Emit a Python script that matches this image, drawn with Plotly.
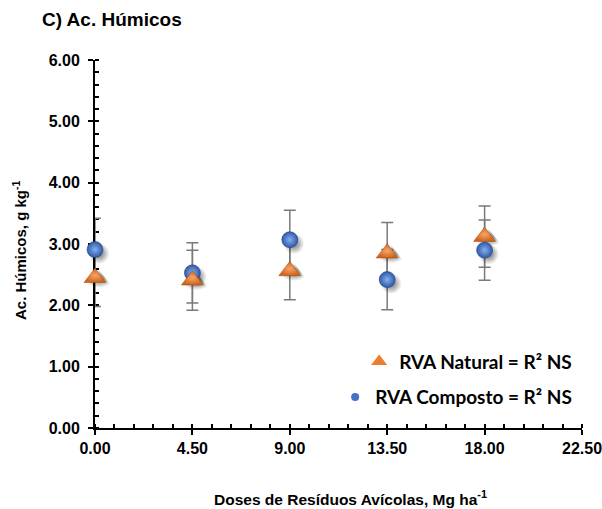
import plotly.graph_objects as go

# ---- data ----
doses = [0.0, 4.5, 9.0, 13.5, 18.0]
natural = [2.45, 2.41, 2.56, 2.85, 3.12]
natural_err = [0.47, 0.49, 0.47, 0.50, 0.50]
composto = [2.91, 2.53, 3.07, 2.42, 2.90]
composto_err = [0.51, 0.49, 0.48, 0.49, 0.49]

x_ticks = [0.0, 4.5, 9.0, 13.5, 18.0, 22.5]
y_ticks = [0, 1, 2, 3, 4, 5, 6]

title_text = "C) Ac. Húmicos"
x_title = "Doses de Resíduos Avícolas, Mg ha<sup>-1</sup>"
y_title = "Ac. Húmicos, g kg<sup>-1</sup>"
name_natural = "RVA Natural = R² NS"
name_composto = "RVA Composto = R² NS"

ARIAL = "Liberation Sans, Arial, sans-serif"
LEG = "Lato, Carlito, sans-serif"
ERR = "#7a7a7a"

X_RANGE = [0, 22.5]
Y_RANGE = [0, 6]
PLOT_W, PLOT_H = 487, 368
SHADOW_PX = 4  # drop-shadow offset in pixels
dx = SHADOW_PX * (X_RANGE[1] - X_RANGE[0]) / PLOT_W
dy = SHADOW_PX * (Y_RANGE[1] - Y_RANGE[0]) / PLOT_H

fig = go.Figure()

# error bars (main axes, beneath everything else)
for ys, es in ((composto, composto_err), (natural, natural_err)):
    fig.add_trace(go.Scatter(
        x=doses, y=ys, mode="markers",
        marker=dict(size=1, opacity=0),
        error_y=dict(type="data", array=es, visible=True, color=ERR,
                     thickness=1.5, width=6),
        showlegend=False, hoverinfo="skip", cliponaxis=False))

# soft drop shadows (on a slightly shifted overlay axis pair)
for ys, sym, sz in ((composto, "circle", 21), (natural, "triangle-up", 24)):
    fig.add_trace(go.Scatter(
        x=doses, y=ys, mode="markers", xaxis="x2", yaxis="y2",
        marker=dict(symbol=sym, size=sz, color="rgba(0,0,0,0)",
                    gradient=dict(type="radial", color="rgba(0,0,0,0.6)"),
                    line=dict(width=0)),
        showlegend=False, hoverinfo="skip", cliponaxis=False))

# composto: blue spheres
fig.add_trace(go.Scatter(
    x=doses, y=composto, mode="markers", name=name_composto,
    xaxis="x3", yaxis="y3",
    marker=dict(symbol="circle", size=16, color="#2f5aa8",
                gradient=dict(type="radial", color="#86aef0"),
                line=dict(width=0.6, color="#24477f")),
    showlegend=False, cliponaxis=False))

# natural: orange triangles
fig.add_trace(go.Scatter(
    x=doses, y=natural, mode="markers", name=name_natural,
    xaxis="x3", yaxis="y3",
    marker=dict(symbol="triangle-up", size=19, color="#d0641c",
                gradient=dict(type="radial", color="#f7a566"),
                line=dict(width=0.6, color="#a84f14")),
    showlegend=False, cliponaxis=False))

# legend entries
fig.add_trace(go.Scatter(
    x=[None], y=[None], mode="markers", name=name_natural,
    marker=dict(symbol="triangle-up", size=14, color="#ED7D31"),
    legend="legend"))
fig.add_trace(go.Scatter(
    x=[None], y=[None], mode="markers", name=name_composto,
    marker=dict(symbol="circle", size=8, color="#4472C4"),
    legend="legend2"))

tickfont = dict(family=ARIAL, size=16, color="black", weight="bold")
legfont = dict(family=LEG, size=19, color="black", weight="bold")
hidden = dict(visible=False, showgrid=False, zeroline=False, fixedrange=True)

fig.update_layout(
    width=602, height=509,
    margin=dict(l=95, r=20, t=60, b=81, autoexpand=False),
    paper_bgcolor="white", plot_bgcolor="white",
    xaxis=dict(range=X_RANGE, tickvals=x_ticks, tickformat=".2f",
               showgrid=False, zeroline=False, showline=True,
               linecolor="black", linewidth=2,
               ticks="outside", ticklen=5, tickwidth=2, tickcolor="black",
               minor=dict(dtick=0.9, ticks="inside", ticklen=4,
                          tickwidth=1.5, tickcolor="black"),
               tickfont=tickfont, ticklabelstandoff=0, automargin=False,
               ticklabeloverflow="allow", layer="below traces"),
    yaxis=dict(range=Y_RANGE, tickvals=y_ticks, tickformat=".2f",
               showgrid=False, zeroline=False, showline=True,
               linecolor="black", linewidth=2,
               ticks="outside", ticklen=5, tickwidth=2, tickcolor="black",
               minor=dict(dtick=0.2, ticks="inside", ticklen=4,
                          tickwidth=1.5, tickcolor="black"),
               tickfont=tickfont, ticklabelstandoff=5, automargin=False,
               layer="below traces"),
    xaxis2=dict(overlaying="x", range=[X_RANGE[0] - dx, X_RANGE[1] - dx],
                **hidden),
    yaxis2=dict(overlaying="y", range=[Y_RANGE[0] + dy, Y_RANGE[1] + dy],
                **hidden),
    xaxis3=dict(overlaying="x", range=X_RANGE, **hidden),
    yaxis3=dict(overlaying="y", range=Y_RANGE, **hidden),
    legend=dict(x=0.99, y=0.18, xanchor="right", yanchor="middle",
                bgcolor="rgba(0,0,0,0)", font=legfont, itemsizing="trace",
                tracegroupgap=0),
    legend2=dict(x=0.99, y=0.084, xanchor="right", yanchor="middle",
                 bgcolor="rgba(0,0,0,0)", font=legfont, itemsizing="trace",
                 tracegroupgap=0),
    annotations=[
        dict(text=title_text, xref="paper", yref="paper",
             x=-55 / 487, y=1 + 40 / 368, xanchor="left", yanchor="middle",
             showarrow=False,
             font=dict(family=ARIAL, size=19, color="black", weight="bold")),
        dict(text=x_title, xref="paper", yref="paper",
             x=(350 - 95) / 487, y=-(498 - 428) / 368,
             xanchor="center", yanchor="middle", showarrow=False,
             font=dict(family=ARIAL, size=15.5, color="black", weight="bold")),
        dict(text=y_title, xref="paper", yref="paper",
             x=-(95 - 19) / 487, y=(428 - 250) / 368, textangle=-90,
             xanchor="center", yanchor="middle", showarrow=False,
             font=dict(family=ARIAL, size=15, color="black", weight="bold")),
    ],
)

fig.write_html("out.html")
